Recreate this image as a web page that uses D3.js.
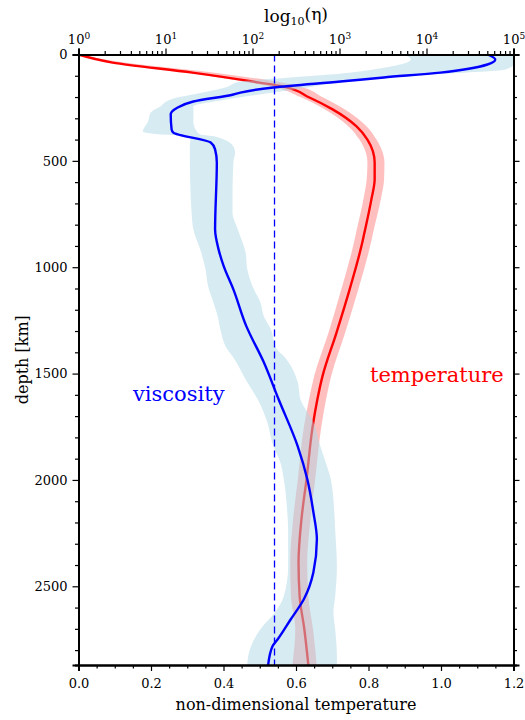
<!DOCTYPE html>
<html>
<head>
<meta charset="utf-8">
<script src="https://cdn.jsdelivr.net/npm/d3@7"></script>
<style>
  body { margin: 0; background: #fff; }
</style>
</head>
<body>
<div id="chart"></div>
<script>
// temperature profile (depth in km, non-dimensional T)
const tempDepth = [0, 38, 85, 132, 150, 202, 258, 338, 400, 508, 587, 681, 836, 883, 1104, 1306, 1513, 1621, 1748, 1997, 2185, 2387, 2547, 2702, 2870];
const tempMean  = [0, 0.094, 0.314, 0.499, 0.563, 0.637, 0.701, 0.767, 0.797, 0.817, 0.817, 0.808, 0.789, 0.783, 0.748, 0.712, 0.673, 0.659, 0.646, 0.629, 0.615, 0.607, 0.610, 0.623, 0.634];
const tempLo    = [0, 0.085, 0.300, 0.470, 0.530, 0.615, 0.680, 0.745, 0.775, 0.797, 0.795, 0.786, 0.766, 0.760, 0.725, 0.690, 0.650, 0.636, 0.622, 0.605, 0.592, 0.584, 0.586, 0.598, 0.590];
const tempHi    = [0, 0.127, 0.370, 0.560, 0.610, 0.675, 0.735, 0.795, 0.822, 0.844, 0.843, 0.834, 0.813, 0.807, 0.772, 0.736, 0.697, 0.683, 0.670, 0.653, 0.640, 0.631, 0.634, 0.647, 0.657];

// viscosity profile, log10(eta)
const viscDepth = [0, 23, 47, 85, 108, 127, 155, 179, 188, 221, 249, 282, 352, 367, 414, 446, 508, 822, 916, 996, 1104, 1278, 1447, 1621, 1842, 1997, 2152, 2279, 2434, 2561, 2655, 2749, 2782, 2870];
const viscLog   = [4.70, 4.79, 4.70, 4.16, 3.51, 3.01, 2.24, 1.86, 1.78, 1.32, 1.14, 1.06, 1.07, 1.09, 1.52, 1.57, 1.59, 1.57, 1.61, 1.67, 1.78, 1.93, 2.13, 2.30, 2.52, 2.63, 2.70, 2.74, 2.70, 2.59, 2.44, 2.29, 2.23, 2.18];

const viscBandDepth = [0, 23, 47, 70, 94, 108, 127, 155, 179, 211, 244, 273, 315, 362, 376, 385, 432, 460, 507, 667, 742, 822, 930, 1010, 1090, 1165, 1231, 1292, 1386, 1419, 1541, 1621, 1729, 1842, 1917, 1997, 2152, 2232, 2406, 2547, 2622, 2702, 2829, 2870];
const viscBandLo    = [3.74, 3.82, 3.70, 3.39, 2.90, 2.44, 1.86, 1.69, 1.43, 1.06, 0.94, 0.83, 0.80, 0.74, 0.94, 1.29, 1.28, 1.28, 1.28, 1.29, 1.30, 1.32, 1.41, 1.46, 1.49, 1.55, 1.60, 1.63, 1.71, 1.77, 1.94, 2.06, 2.17, 2.24, 2.32, 2.36, 2.40, 2.41, 2.41, 2.36, 2.26, 2.09, 1.95, 1.94];
const viscBandHi    = [5.00, 5.00, 5.00, 4.91, 4.05, 3.59, 3.07, 2.63, 2.24, 1.70, 1.32, 1.32, 1.32, 1.36, 1.40, 1.57, 1.78, 1.80, 1.78, 1.77, 1.77, 1.83, 1.92, 1.94, 2.00, 2.09, 2.13, 2.21, 2.28, 2.36, 2.52, 2.55, 2.70, 2.78, 2.84, 2.90, 2.94, 2.95, 2.97, 2.95, 2.93, 2.95, 2.97, 2.97];

const meanViscLog = 2.253;

const tempTicks = [0, 0.2, 0.4, 0.6, 0.8, 1.0, 1.2];
const depthTicks = [0, 500, 1000, 1500, 2000, 2500];
const viscTicks = [1, 10, 100, 1000, 10000, 100000];

const width = 525, height = 720;
const plotLeft = 78.5, plotRight = 513.5, plotTop = 54.5, plotBottom = 665;
const serif = "'DejaVu Serif', serif";

const svg = d3.select("#chart")
  .append("svg")
    .attr("width", width)
    .attr("height", height);

const xT = d3.scaleLinear().domain([0, 1.2]).range([plotLeft, plotRight]);
const xV = d3.scaleLog().domain([1, 1e5]).range([plotLeft, plotRight]);
const y = d3.scaleLinear().domain([0, 2870]).range([plotTop, plotBottom]);

svg.append("clipPath").attr("id", "plot")
  .append("rect")
    .attr("x", plotLeft).attr("y", plotTop)
    .attr("width", plotRight - plotLeft).attr("height", plotBottom - plotTop);

const g = svg.append("g").attr("clip-path", "url(#plot)");

const tempRows = tempDepth.map((d, i) => ({ d: d, t: tempMean[i], lo: tempLo[i], hi: tempHi[i] }));
const viscRows = viscDepth.map((d, i) => ({ d: d, v: Math.pow(10, viscLog[i]) }));
const viscBand = viscBandDepth.map((d, i) => ({ d: d, lo: Math.pow(10, viscBandLo[i]), hi: Math.pow(10, viscBandHi[i]) }));

// temperature band + line
g.append("path")
  .datum(tempRows)
  .attr("d", d3.area()
    .curve(d3.curveMonotoneY)
    .y(d => y(d.d))
    .x0(d => xT(d.lo))
    .x1(d => xT(d.hi)))
  .attr("fill", "#ff0000")
  .attr("fill-opacity", 0.25);

g.append("path")
  .datum(tempRows)
  .attr("d", d3.line()
    .curve(d3.curveMonotoneY)
    .x(d => xT(d.t))
    .y(d => y(d.d)))
  .attr("fill", "none")
  .attr("stroke", "#ff0000")
  .attr("stroke-width", 2.4);

// viscosity band on top
g.append("path")
  .datum(viscBand)
  .attr("d", d3.area()
    .curve(d3.curveMonotoneY)
    .y(d => y(d.d))
    .x0(d => xV(d.lo))
    .x1(d => xV(d.hi)))
  .attr("fill", "#add8e6")
  .attr("fill-opacity", 0.5);

g.append("line")
  .attr("x1", xV(Math.pow(10, meanViscLog)))
  .attr("x2", xV(Math.pow(10, meanViscLog)))
  .attr("y1", plotTop)
  .attr("y2", plotBottom)
  .attr("stroke", "#0000ff")
  .attr("stroke-width", 1.3)
  .attr("stroke-dasharray", "7,4");

g.append("path")
  .datum(viscRows)
  .attr("d", d3.line()
    .curve(d3.curveMonotoneY)
    .x(d => xV(d.v))
    .y(d => y(d.d)))
  .attr("fill", "none")
  .attr("stroke", "#0000ff")
  .attr("stroke-width", 2.4);

// axes
function styleAxis(sel) {
  sel.select(".domain").attr("stroke-width", 2);
  sel.selectAll(".tick line").attr("stroke-width", 1.2);
  sel.selectAll("text")
    .style("font-family", serif)
    .style("font-size", "13px")
    .attr("fill", "#000");
}

const minorT = d3.range(0, 1.2001, 0.05).filter(v => Math.abs(v * 5 - Math.round(v * 5)) > 1e-6);
const minorD = d3.range(100, 2870, 100).filter(v => v % 500 !== 0);
const minorV = [];
for (let k = 0; k < 5; k++) for (let m = 2; m <= 9; m++) minorV.push(m * Math.pow(10, k));

svg.append("g")
  .attr("transform", "translate(0," + plotBottom + ")")
  .call(d3.axisBottom(xT).tickValues(minorT).tickSize(3.5).tickFormat(""))
  .call(styleAxis);
svg.append("g")
  .attr("transform", "translate(0," + plotBottom + ")")
  .call(d3.axisBottom(xT).tickValues(tempTicks).tickSize(6).tickPadding(8).tickFormat(d3.format(".1f")))
  .call(styleAxis);

svg.append("g")
  .attr("transform", "translate(" + plotLeft + ",0)")
  .call(d3.axisLeft(y).tickValues(minorD).tickSize(3.5).tickFormat(""))
  .call(styleAxis);
svg.append("g")
  .attr("transform", "translate(" + plotLeft + ",0)")
  .call(d3.axisLeft(y).tickValues(depthTicks).tickSize(6).tickPadding(5).tickFormat(d3.format("d")))
  .call(styleAxis);

svg.append("g")
  .attr("transform", "translate(" + plotRight + ",0)")
  .call(d3.axisRight(y).tickValues(minorD).tickSize(3.5).tickFormat(""))
  .call(styleAxis);
svg.append("g")
  .attr("transform", "translate(" + plotRight + ",0)")
  .call(d3.axisRight(y).tickValues(depthTicks).tickSize(6).tickFormat(""))
  .call(styleAxis);

svg.append("g")
  .attr("transform", "translate(0," + plotTop + ")")
  .call(d3.axisTop(xV).tickValues(minorV).tickSize(3.5).tickFormat(""))
  .call(styleAxis);
const topAxis = svg.append("g")
  .attr("transform", "translate(0," + plotTop + ")")
  .call(d3.axisTop(xV).tickValues(viscTicks).tickSize(6).tickPadding(5).tickFormat(""))
  .call(styleAxis);

topAxis.selectAll(".tick text").each(function(d) {
  const t = d3.select(this);
  t.text("10");
  t.append("tspan")
    .attr("dy", "-0.5em")
    .style("font-size", "9px")
    .text(Math.round(Math.log10(d)));
});

// titles
const title = svg.append("text")
  .attr("x", (plotLeft + plotRight) / 2)
  .attr("y", 22)
  .attr("text-anchor", "middle")
  .style("font-family", serif)
  .style("font-size", "17px");
title.append("tspan").text("log");
title.append("tspan").attr("dy", "0.3em").style("font-size", "11px").text("10");
title.append("tspan").attr("dy", "-0.3em").text("(η)");

svg.append("text")
  .attr("x", (plotLeft + plotRight) / 2)
  .attr("y", 710)
  .attr("text-anchor", "middle")
  .style("font-family", serif)
  .style("font-size", "16px")
  .text("non-dimensional temperature");

svg.append("text")
  .attr("transform", "translate(28," + (plotTop + plotBottom) / 2 + ") rotate(-90)")
  .attr("text-anchor", "middle")
  .style("font-family", serif)
  .style("font-size", "16px")
  .text("depth [km]");

svg.append("text")
  .attr("x", 370)
  .attr("y", 382)
  .style("font-family", serif)
  .style("font-size", "21px")
  .attr("fill", "#ff0000")
  .text("temperature");

svg.append("text")
  .attr("x", 133)
  .attr("y", 401)
  .style("font-family", serif)
  .style("font-size", "21px")
  .attr("fill", "#0000ff")
  .text("viscosity");
</script>
</body>
</html>
